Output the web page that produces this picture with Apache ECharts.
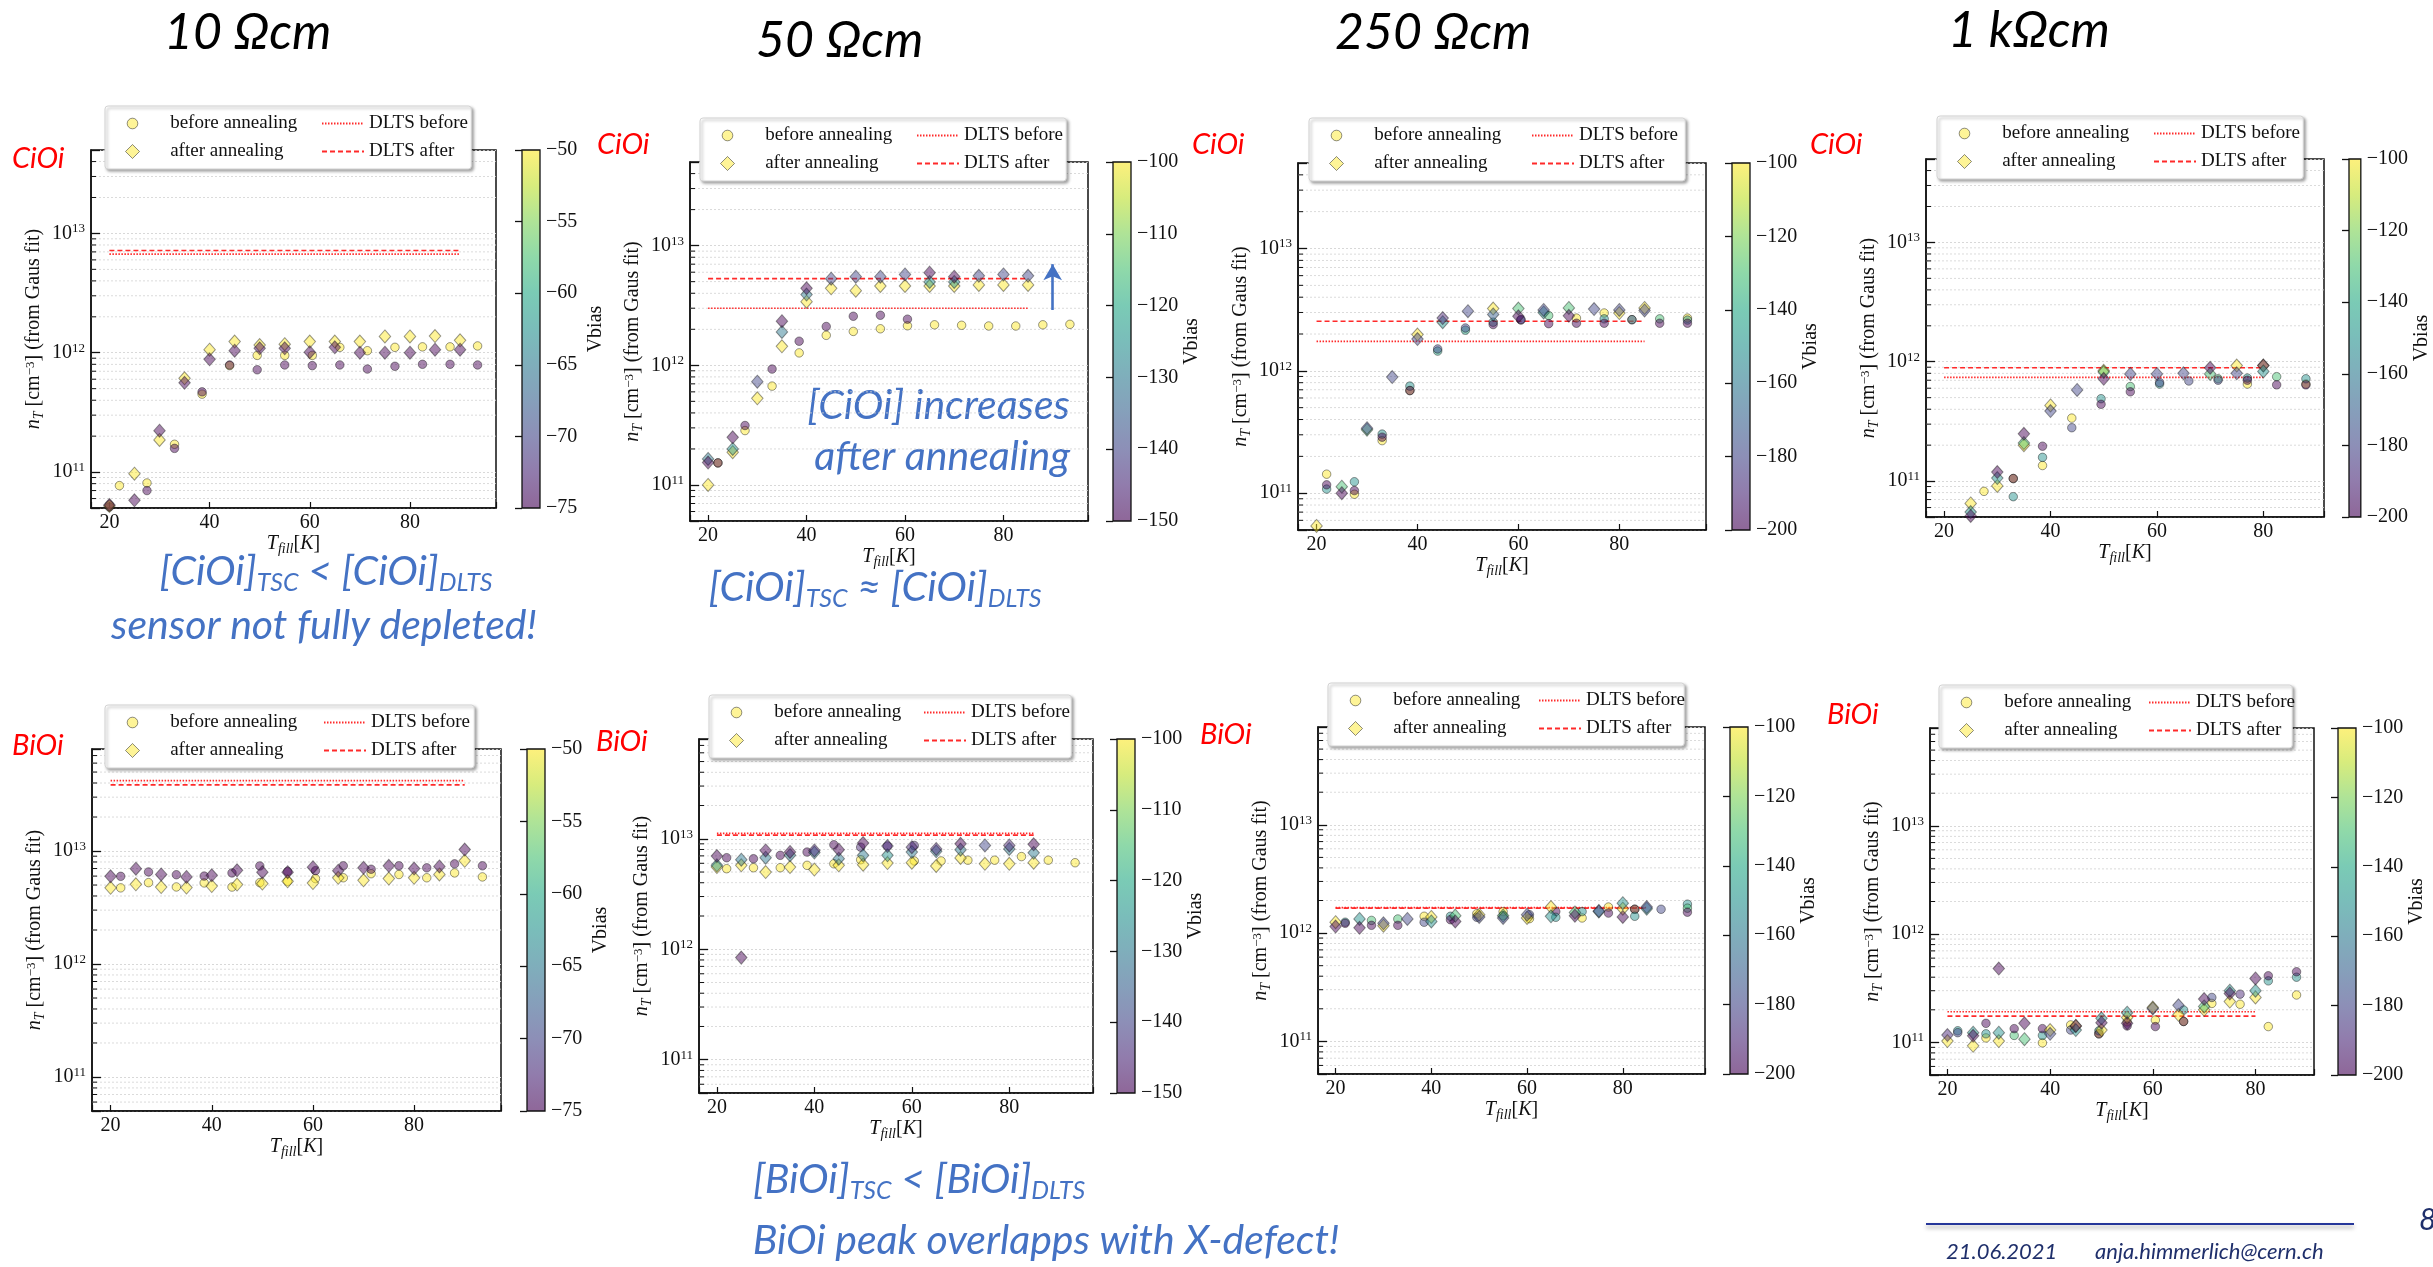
<!DOCTYPE html>
<html><head><meta charset="utf-8">
<script src="https://cdn.jsdelivr.net/npm/echarts@6/dist/echarts.min.js"></script>
<style>html,body{margin:0;padding:0;background:#fff;}#c{width:2433px;height:1267px;}</style>
</head><body><div id="c"></div>
<script>
// ---------------- DATA ----------------
// [T_fill (K), n_T (cm^-3), Vbias (V)]
const bef1=[[20,5.3e10,-50],[20,5.1e10,-75],[22,7.7e10,-50],[27.5,8.1e10,-50],[27.5,7.0e10,-75],[33,1.71e11,-50],[33,1.58e11,-75],[38.5,4.5e11,-50],[38.5,4.7e11,-75],[44,7.8e11,-50],[44,7.9e11,-75],[49.5,9.5e11,-50],[49.5,7.2e11,-75],[55,9.5e11,-50],[55,7.9e11,-75],[60.5,9.5e11,-50],[60.5,7.8e11,-75],[66,1.11e12,-50],[66,7.9e11,-75],[71.5,1.04e12,-50],[71.5,7.3e11,-75],[77,1.11e12,-50],[77,7.7e11,-75],[82.5,1.12e12,-50],[82.5,8.0e11,-75],[88,1.12e12,-50],[88,8.0e11,-75],[93.5,1.14e12,-50],[93.5,7.9e11,-75]];
const aft1=[[20,5.2e10,-50],[20,5.3e10,-75],[25,9.7e10,-50],[25,5.8e10,-75],[30,1.86e11,-50],[30,2.22e11,-75],[35,6.1e11,-50],[35,5.6e11,-75],[40,1.06e12,-50],[40,8.8e11,-75],[45,1.24e12,-50],[45,1.04e12,-75],[50,1.16e12,-50],[50,1.09e12,-75],[55,1.18e12,-50],[55,1.09e12,-75],[60,1.24e12,-50],[60,1.01e12,-75],[65,1.24e12,-50],[65,1.11e12,-75],[70,1.24e12,-50],[70,1.0e12,-75],[75,1.37e12,-50],[75,1.0e12,-75],[80,1.37e12,-50],[80,1.0e12,-75],[85,1.38e12,-50],[85,1.06e12,-75],[90,1.27e12,-50],[90,1.06e12,-75]];
const bef2=[[22,1.53e11,-100],[22,1.53e11,-150],[27.5,2.85e11,-100],[27.5,3.14e11,-150],[33,6.7e11,-100],[33,9.3e11,-150],[38.5,1.27e12,-100],[38.5,1.59e12,-150],[44,1.78e12,-100],[44,2.11e12,-150],[49.5,1.92e12,-100],[49.5,2.57e12,-150],[55,2.02e12,-100],[55,2.62e12,-150],[60.5,2.14e12,-100],[60.5,2.43e12,-150],[66,2.18e12,-100],[71.5,2.16e12,-100],[77,2.13e12,-100],[82.5,2.13e12,-100],[88,2.18e12,-100],[93.5,2.2e12,-100]];
const aft2=[[20,1.0e11,-100],[20,1.65e11,-130],[20,1.54e11,-150],[25,1.88e11,-100],[25,2.0e11,-125],[25,2.5e11,-150],[30,5.3e11,-100],[30,7.3e11,-140],[35,1.44e12,-100],[35,1.9e12,-130],[35,2.34e12,-150],[40,3.4e12,-100],[40,3.9e12,-130],[40,4.4e12,-150],[45,4.4e12,-100],[45,5.3e12,-140],[50,4.2e12,-100],[50,5.5e12,-140],[55,4.6e12,-100],[55,5.5e12,-140],[60,4.6e12,-100],[60,5.75e12,-140],[65,4.6e12,-100],[65,4.97e12,-125],[65,5.95e12,-150],[70,4.6e12,-100],[70,4.97e12,-125],[70,5.5e12,-150],[75,4.7e12,-100],[75,5.6e12,-140],[80,4.7e12,-100],[80,5.75e12,-140],[85,4.7e12,-100],[85,5.6e12,-140]];
const bef3=[[22,1.43e11,-100],[22,1.08e11,-150],[22,1.17e11,-200],[27.5,9.8e10,-100],[27.5,1.24e11,-150],[27.5,1.05e11,-200],[33,2.69e11,-100],[33,3.04e11,-150],[33,2.87e11,-200],[38.5,6.9e11,-100],[38.5,7.5e11,-150],[38.5,6.9e11,-200],[44,1.45e12,-140],[44,1.51e12,-180],[49.5,2.15e12,-140],[49.5,2.24e12,-180],[55,2.5e12,-150],[55,2.39e12,-200],[60.5,2.6e12,-200],[60.5,2.63e12,-180],[66,2.83e12,-130],[66,2.43e12,-200],[71.5,2.7e12,-100],[71.5,2.45e12,-200],[77,2.97e12,-100],[77,2.66e12,-150],[77,2.45e12,-200],[82.5,2.62e12,-120],[82.5,2.62e12,-180],[88,2.66e12,-130],[88,2.45e12,-200],[93.5,2.7e12,-100],[93.5,2.6e12,-150],[93.5,2.45e12,-200]];
const aft3=[[20,5.4e10,-100],[25,1.13e11,-130],[25,1.0e11,-200],[30,3.3e11,-130],[30,3.4e11,-180],[35,8.9e11,-180],[40,1.98e12,-100],[40,1.82e12,-180],[45,2.5e12,-150],[45,2.7e12,-190],[50,3.07e12,-180],[55,3.23e12,-100],[55,2.89e12,-170],[60,3.23e12,-130],[60,2.79e12,-200],[65,3.0e12,-150],[65,3.15e12,-180],[70,3.27e12,-130],[70,2.82e12,-200],[75,3.2e12,-180],[80,2.97e12,-100],[80,3.15e12,-180],[85,3.27e12,-100],[85,3.12e12,-180]];
const bef4=[[27.5,8.2e10,-100],[33,1.05e11,-100],[33,1.05e11,-200],[33,7.4e10,-150],[38.5,1.35e11,-100],[38.5,1.58e11,-150],[38.5,1.96e11,-200],[44,3.37e11,-100],[44,2.8e11,-180],[49.5,4.9e11,-150],[49.5,4.4e11,-200],[55,6.2e11,-130],[55,5.6e11,-200],[60.5,6.5e11,-150],[60.5,6.7e11,-180],[66,6.9e11,-180],[71.5,7.2e11,-130],[71.5,7.0e11,-180],[77,6.5e11,-100],[77,7.3e11,-150],[77,7.0e11,-200],[82.5,7.5e11,-130],[82.5,6.4e11,-200],[88,6.5e11,-100],[88,7.2e11,-150],[88,6.4e11,-200]];
const aft4=[[25,6.5e10,-100],[25,5.5e10,-150],[25,5.1e10,-200],[30,9.1e10,-100],[30,1.06e11,-150],[30,1.19e11,-200],[35,2.0e11,-100],[35,2.08e11,-130],[35,2.49e11,-200],[40,4.3e11,-100],[40,3.86e11,-180],[45,5.8e11,-180],[50,8.4e11,-100],[50,8.2e11,-130],[50,7.2e11,-200],[55,7.9e11,-180],[60,7.9e11,-180],[65,8.0e11,-180],[70,7.9e11,-130],[70,8.9e11,-200],[75,9.3e11,-100],[75,8.0e11,-180],[80,9.3e11,-100],[80,9.3e11,-200],[80,8.3e11,-150]];
const bef5=[[22,4.72e12,-50],[22,5.97e12,-75],[27.5,5.25e12,-50],[27.5,6.53e12,-75],[33,4.81e12,-50],[33,6.17e12,-75],[38.5,5.22e12,-50],[38.5,6.0e12,-75],[44,4.8e12,-50],[44,6.4e12,-75],[49.5,5.25e12,-50],[49.5,7.38e12,-75],[55,5.4e12,-50],[55,6.6e12,-75],[60.5,5.7e12,-50],[60.5,6.7e12,-75],[66,5.8e12,-50],[66,7.4e12,-75],[71.5,6.3e12,-50],[71.5,6.9e12,-75],[77,6.2e12,-50],[77,7.4e12,-75],[82.5,5.8e12,-50],[82.5,7.1e12,-75],[88,6.4e12,-50],[88,7.7e12,-75],[93.5,5.9e12,-50],[93.5,7.4e12,-75]];
const aft5=[[20,4.72e12,-50],[20,5.97e12,-75],[25,5.08e12,-50],[25,6.98e12,-75],[30,4.8e12,-50],[30,6.2e12,-75],[35,4.75e12,-50],[35,5.9e12,-75],[40,4.9e12,-50],[40,6.1e12,-75],[45,5.05e12,-50],[45,6.75e12,-75],[50,5.15e12,-50],[50,6.5e12,-75],[55,5.4e12,-50],[55,6.5e12,-75],[60,5.2e12,-50],[60,7.2e12,-75],[65,5.8e12,-50],[65,6.7e12,-75],[70,5.5e12,-50],[70,7.1e12,-75],[75,5.7e12,-50],[75,7.4e12,-75],[80,5.8e12,-50],[80,7.0e12,-75],[85,6.2e12,-50],[85,7.3e12,-75],[90,8.2e12,-50],[90,1.03e13,-75]];
const bef6=[[22,5.36e12,-100],[22,6.74e12,-150],[27.5,5.47e12,-100],[27.5,6.6e12,-150],[33,5.47e12,-100],[33,7.08e12,-150],[38.5,5.75e12,-100],[38.5,7.58e12,-150],[44,5.94e12,-100],[44,8.83e12,-150],[49.5,6.46e12,-100],[49.5,8.4e12,-145],[55,8.6e12,-145],[60.5,6.3e12,-100],[60.5,8.7e12,-145],[66,6.3e12,-100],[71.5,6.4e12,-100],[77,6.4e12,-100],[82.5,6.9e12,-100],[88,6.4e12,-100],[93.5,6.07e12,-100]];
const aft6=[[20,5.55e12,-100],[20,5.75e12,-125],[20,6.98e12,-150],[25,5.75e12,-100],[25,6.46e12,-130],[25,8.4e11,-150],[30,5.0e12,-100],[30,6.74e12,-130],[30,7.85e12,-150],[35,5.55e12,-100],[35,7.1e12,-130],[35,7.6e12,-150],[40,5.26e12,-100],[40,7.5e12,-130],[40,7.85e12,-145],[45,5.75e12,-100],[45,6.6e12,-130],[45,7.96e12,-150],[50,5.83e12,-100],[50,7.08e12,-130],[50,9.14e12,-150],[55,6.03e12,-100],[55,7.08e12,-125],[55,8.6e12,-145],[60,6.07e12,-100],[60,7.58e12,-130],[60,8.4e12,-145],[65,5.67e12,-100],[65,7.7e12,-130],[65,8.1e12,-145],[70,6.7e12,-100],[70,7.96e12,-130],[70,9.0e12,-150],[75,5.94e12,-100],[75,8.7e12,-140],[80,5.94e12,-100],[80,8.1e12,-130],[80,8.7e12,-145],[85,6.07e12,-100],[85,7.47e12,-130],[85,8.9e12,-150]];
const bef7=[[22,1.26e12,-150],[22,1.23e12,-200],[27.5,1.31e12,-130],[27.5,1.18e12,-200],[33,1.35e12,-130],[33,1.18e12,-200],[38.5,1.43e12,-100],[38.5,1.26e12,-180],[44,1.43e12,-150],[44,1.33e12,-200],[49.5,1.51e12,-100],[49.5,1.4e12,-180],[55,1.58e12,-100],[55,1.45e12,-130],[60.5,1.36e12,-100],[60.5,1.48e12,-180],[66,1.58e12,-200],[66,1.4e12,-150],[71.5,1.38e12,-100],[71.5,1.58e12,-150],[77,1.74e12,-100],[77,1.53e12,-200],[82.5,1.66e12,-100],[82.5,1.66e12,-200],[82.5,1.43e12,-150],[88,1.66e12,-180],[93.5,1.85e12,-150],[93.5,1.7e12,-130],[93.5,1.56e12,-200]];
const aft7=[[20,1.26e12,-100],[20,1.15e12,-200],[25,1.35e12,-150],[25,1.12e12,-200],[30,1.17e12,-100],[30,1.23e12,-180],[35,1.35e12,-180],[40,1.41e12,-100],[40,1.28e12,-150],[45,1.45e12,-130],[45,1.28e12,-200],[50,1.48e12,-100],[50,1.41e12,-180],[55,1.45e12,-130],[55,1.38e12,-180],[60,1.38e12,-100],[60,1.48e12,-180],[65,1.74e12,-100],[65,1.43e12,-150],[70,1.55e12,-130],[70,1.45e12,-200],[75,1.58e12,-150],[75,1.6e12,-180],[80,1.68e12,-100],[80,1.89e12,-150],[80,1.41e12,-200],[85,1.68e12,-150],[85,1.74e12,-180]];
const bef8=[[22,1.28e11,-150],[22,1.23e11,-180],[27.5,1.1e11,-100],[27.5,1.2e11,-150],[27.5,1.5e11,-200],[33,1.16e11,-130],[33,1.34e11,-200],[38.5,9.9e10,-100],[38.5,1.16e11,-150],[38.5,1.34e11,-200],[44,1.45e11,-100],[44,1.3e11,-180],[49.5,1.2e11,-100],[49.5,1.28e11,-150],[49.5,1.2e11,-200],[55,1.55e11,-100],[55,1.42e11,-200],[60.5,1.61e11,-100],[60.5,1.4e11,-200],[66,1.56e11,-100],[66,1.99e11,-150],[66,1.56e11,-200],[71.5,2.29e11,-100],[71.5,2.6e11,-180],[77,2.25e11,-100],[77,2.79e11,-190],[82.5,1.4e11,-100],[82.5,3.7e11,-150],[82.5,4.12e11,-200],[88,2.74e11,-100],[88,4.0e11,-150],[88,4.49e11,-200]];
const aft8=[[20,1.03e11,-100],[20,1.17e11,-190],[25,9.3e10,-100],[25,1.23e11,-150],[25,1.15e11,-200],[30,1.03e11,-100],[30,1.23e11,-150],[30,4.8e11,-200],[35,1.07e11,-130],[35,1.5e11,-200],[40,1.3e11,-100],[40,1.2e11,-180],[45,1.42e11,-100],[45,1.3e11,-150],[45,1.42e11,-200],[50,1.3e11,-100],[50,1.67e11,-150],[50,1.52e11,-200],[55,1.7e11,-100],[55,1.88e11,-150],[55,1.5e11,-200],[60,2.1e11,-100],[60,2.06e11,-180],[65,1.8e11,-100],[65,2.2e11,-180],[70,2.0e11,-100],[70,2.15e11,-130],[70,2.51e11,-200],[75,2.38e11,-100],[75,3.0e11,-150],[75,2.83e11,-200],[80,2.6e11,-100],[80,3.0e11,-150],[80,3.9e11,-200]];

const dltsBefore=[6.7e12,3.0e12,1.74e12,7.4e11,4.2e13,1.12e13,1.72e12,1.92e11];
const dltsAfter =[7.2e12,5.3e12,2.54e12,8.9e11,3.85e13,1.08e13,1.70e12,1.75e11];
const dltsStart=20;
const dltsEnd=[90,85,85,80,90,85,85,80];

const xMin=[16.325,16.325,16.325,16.6,16.325,16.325,16.325,16.6];
const xMax=[97.175,97.175,97.175,91.4,97.175,97.175,97.175,91.4];
const yMin=[5e10,5e10,5e10,5e10,5e10,5e10,5e10,5e10];
const yMax=[5e13,5e13,5e13,5e13,8e13,8e13,8e13,8e13];
const vMin=[-75,-150,-200,-200,-75,-150,-200,-200];
const vMax=[-50,-100,-100,-100,-50,-100,-100,-100];
const vStep=[5,10,20,20,5,10,20,20];
const defectLabels=['CiOi','CiOi','CiOi','CiOi','BiOi','BiOi','BiOi','BiOi'];
const columnTitles=['10 Ωcm','50 Ωcm','250 Ωcm','1 kΩcm'];
const arrowCiOi={x:90,from:2.9e12,to:7.0e12};

const befData=[bef1,bef2,bef3,bef4,bef5,bef6,bef7,bef8];
const aftData=[aft1,aft2,aft3,aft4,aft5,aft6,aft7,aft8];

// ---------------- LAYOUT / STYLE ----------------
const LAYOUT=[
 {g:[91,150,405,358],cb:[522,18],lg:[105,106,379],lab:[12,159]},
 {g:[690,162,398,359],cb:[1113,18],lg:[700,118,379],lab:[597,145]},
 {g:[1298,163,408,367],cb:[1732,18],lg:[1309,118,389],lab:[1192,145]},
 {g:[1926,159,398,358],cb:[2349,19],lg:[1937,116,379],lab:[1810,145]},
 {g:[92,749,409,362],cb:[527,18],lg:[105,705,382],lab:[12,746]},
 {g:[699,739,394,354],cb:[1117,18],lg:[709,695,375],lab:[596,742]},
 {g:[1318,727,387,347],cb:[1730,18],lg:[1328,683,369],lab:[1200,735]},
 {g:[1930,728,384,347],cb:[2338,18],lg:[1939,685,366],lab:[1827,715]}
];
const SERIF='"Liberation Serif","DejaVu Serif",serif';
const SANS='Lato,"Open Sans",sans-serif';
const BLUE='#4472C4';
const VIR=['#440154','#482475','#414487','#355f8d','#2a788e','#21918c','#22a884','#44bf70','#7ad151','#bddf26','#fde725'];
const rgba=(h,a)=>{const n=parseInt(h.slice(1),16);return 'rgba('+(n>>16&255)+','+(n>>8&255)+','+(n&255)+','+a+')';};
const CMAP=VIR.map(h=>rgba(h,0.6));
const RICH_AX={
 i:{fontFamily:SERIF,fontStyle:'italic',fontSize:20,color:'#111',lineHeight:22,padding:[0,0,4,0],verticalAlign:'top'},
 r:{fontFamily:SERIF,fontSize:20,color:'#111',lineHeight:22,padding:[0,0,4,0],verticalAlign:'top'},
 sub:{fontFamily:SERIF,fontStyle:'italic',fontSize:14,color:'#111',lineHeight:14,verticalAlign:'bottom'},
 sup:{fontFamily:SERIF,fontSize:13,color:'#111',lineHeight:14,verticalAlign:'top'}
};
const ICON_CIRCLE='path://M0,0M16,16M8,2.7A5.3,5.3,0,1,1,8,13.3A5.3,5.3,0,1,1,8,2.7Z';
const ICON_DIAMOND='path://M0,0M16,16M8,1L15,8L8,15L1,8Z';
const MARK_STYLE={color:'rgba(253,231,37,0.6)',borderColor:'rgba(20,20,20,0.6)',borderWidth:1};
function minorTicks(lo,hi){const out=[];for(let e=10;e<=13;e++)for(let m=2;m<=9;m++){const v=m*Math.pow(10,e);if(v>lo*1.001&&v<hi*0.999)out.push(v);}return out;}

const option={animation:false,backgroundColor:'#fff',grid:[],xAxis:[],yAxis:[],series:[],visualMap:[],legend:[],graphic:[]};

for(let i=0;i<8;i++){
 const L=LAYOUT[i];
 const gi=option.grid.length;
 option.grid.push({left:L.g[0],top:L.g[1],width:L.g[2],height:L.g[3],show:true,borderColor:'#111',borderWidth:1.5,backgroundColor:'rgba(0,0,0,0)'});
 option.xAxis.push({gridIndex:gi,type:'value',min:xMin[i],max:xMax[i],splitNumber:4,
  axisLine:{show:true,onZero:false,lineStyle:{color:'#111',width:1.5}},
  axisTick:{show:true,inside:true,length:6,lineStyle:{color:'#111',width:1.2}},
  axisLabel:{margin:5,color:'#111',fontFamily:SERIF,fontSize:20,formatter:v=>(Math.abs(v/20-Math.round(v/20))<1e-6?String(Math.round(v)):'')},
  splitLine:{show:false},
  name:'{i|T}{sub|fill}{r|[}{i|K}{r|]}',nameLocation:'middle',nameGap:22,nameTextStyle:{rich:RICH_AX}});
 option.yAxis.push({gridIndex:gi,type:'log',logBase:10,min:yMin[i],max:yMax[i],
  axisLine:{show:true,lineStyle:{color:'#111',width:1.5}},
  axisTick:{show:true,inside:true,length:9,lineStyle:{color:'#111',width:1.3}},
  axisLabel:{margin:6,formatter:v=>{const e=Math.log10(v);return Math.abs(e-Math.round(e))<1e-6?'{b|10}{s|'+Math.round(e)+'}':'';},
   rich:{b:{fontFamily:SERIF,fontSize:20,color:'#111',lineHeight:22},s:{fontFamily:SERIF,fontSize:13,color:'#111',verticalAlign:'top'}}},
  splitLine:{show:true,lineStyle:{color:'#cfcfcf',width:0.8,type:[2,2]}},
  name:'{i|n}{sub|T}{r| [cm}{sup|−3}{r|] (from Gaus fit)}',nameLocation:'middle',nameGap:39,nameRotate:90,nameTextStyle:{rich:RICH_AX}});
 // colorbar
 const ci=option.grid.length;
 option.grid.push({left:L.cb[0],top:L.g[1],width:L.cb[1],height:L.g[3],show:true,borderColor:'#111',borderWidth:1.3,
  backgroundColor:{type:'linear',x:0,y:1,x2:0,y2:0,colorStops:CMAP.map((c,k)=>({offset:k/(CMAP.length-1),color:c}))}});
 option.xAxis.push({gridIndex:ci,type:'value',show:false,min:0,max:1});
 option.yAxis.push({gridIndex:ci,type:'value',position:'right',min:vMin[i],max:vMax[i],interval:vStep[i],
  axisLine:{show:false},axisTick:{show:true,inside:true,length:7,lineStyle:{color:'#111',width:1.3}},
  axisLabel:{margin:6,color:'#111',fontFamily:SERIF,fontSize:20,formatter:v=>(v<0?'\u2212'+(-v):String(v))},
  splitLine:{show:false},
  name:'Vbias',nameLocation:'middle',nameRotate:90,nameGap:46,nameTextStyle:{fontFamily:SERIF,fontSize:20,color:'#111'}});

 const si=option.series.length;
 option.series.push({type:'scatter',name:'before annealing',xAxisIndex:gi,yAxisIndex:gi,data:befData[i],symbol:'circle',symbolSize:8.5,
  itemStyle:{color:'rgba(253,231,37,0.6)',borderColor:'rgba(20,20,20,0.55)',borderWidth:1},z:3});
 option.series.push({type:'scatter',name:'after annealing',xAxisIndex:gi,yAxisIndex:gi,data:aftData[i],symbol:'diamond',symbolSize:[11.5,13],
  itemStyle:{color:'rgba(253,231,37,0.6)',borderColor:'rgba(20,20,20,0.55)',borderWidth:1},z:3});
 option.series.push({type:'line',name:'DLTS before',xAxisIndex:gi,yAxisIndex:gi,data:[[dltsStart,dltsBefore[i]],[dltsEnd[i],dltsBefore[i]]],
  symbol:'none',silent:true,lineStyle:{color:'#ff2a2a',width:1.6,type:[1.5,1.5]},itemStyle:{color:'#ff2a2a'},z:2});
 const afterLine={type:'line',name:'DLTS after',xAxisIndex:gi,yAxisIndex:gi,data:[[dltsStart,dltsAfter[i]],[dltsEnd[i],dltsAfter[i]]],
  symbol:'none',silent:true,lineStyle:{color:'#ff2a2a',width:1.6,type:[5,3]},itemStyle:{color:'#ff2a2a'},z:2};
 if(i===1){
  afterLine.markLine={silent:true,symbol:['none','arrow'],symbolSize:[14,16],label:{show:false},
   lineStyle:{color:BLUE,width:2.6,type:'solid'},data:[[{coord:[arrowCiOi.x,arrowCiOi.from]},{coord:[arrowCiOi.x,arrowCiOi.to]}]]};
 }
 option.series.push(afterLine);
 option.series.push({type:'custom',xAxisIndex:gi,yAxisIndex:gi,silent:true,z:1,
  data:minorTicks(yMin[i],yMax[i]).map(v=>[30,v]),
  renderItem:(params,api)=>{const p=api.coord([api.value(0),api.value(1)]);const cs=params.coordSys;
   return {type:'group',children:[
    {type:'line',shape:{x1:cs.x,y1:p[1],x2:cs.x+cs.width,y2:p[1]},style:{stroke:'#d2d2d2',lineWidth:0.8,lineDash:[2,2]}},
    {type:'line',shape:{x1:cs.x,y1:p[1],x2:cs.x+5,y2:p[1]},style:{stroke:'#111',lineWidth:1}}]};}});
 option.visualMap.push({type:'continuous',show:false,min:vMin[i],max:vMax[i],dimension:2,seriesIndex:[si,si+1],inRange:{color:CMAP}});

 const lgW=L.lg[2], col2=Math.round(216*lgW/379);
 const lgText={fontFamily:SERIF,fontSize:19,color:'#111'};
 option.legend.push({left:L.lg[0],top:L.lg[1],orient:'vertical',itemGap:9,itemWidth:40,itemHeight:16,symbolKeepAspect:true,
  padding:[8,Math.max(8,lgW-19-186),8,19],backgroundColor:'#fff',borderColor:'#d4d4d4',borderWidth:1,borderRadius:3,
  shadowBlur:3,shadowOffsetX:2,shadowOffsetY:2,shadowColor:'rgba(0,0,0,0.35)',selectedMode:false,z:4,
  textStyle:lgText,formatter:n=>'\u2002\u2006'+n,
  data:[{name:'before annealing',icon:ICON_CIRCLE,itemStyle:MARK_STYLE},{name:'after annealing',icon:ICON_DIAMOND,itemStyle:MARK_STYLE}]});
 option.legend.push({left:L.lg[0]+col2,top:L.lg[1],orient:'vertical',itemGap:9,itemWidth:42,itemHeight:16,
  padding:[8,0,8,0],selectedMode:false,z:5,textStyle:lgText,
  data:[{name:'DLTS before',itemStyle:{opacity:0}},{name:'DLTS after',itemStyle:{opacity:0}}]});
 option.graphic.push({type:'text',x:L.lab[0],y:L.lab[1],style:{text:defectLabels[i],font:'italic 29px '+SANS,fill:'#ff0000',verticalAlign:'middle'}});
}

// column titles
const titlePos=[[164,33],[756,41],[1335,33],[1948,31]];
columnTitles.forEach((t,k)=>option.graphic.push({type:'text',x:titlePos[k][0],y:titlePos[k][1],style:{text:t,font:'italic 50px '+SANS,fill:'#000',verticalAlign:'middle'}}));

const RICH_BL={
 m:{font:'italic 41px '+SANS,fill:BLUE,lineHeight:44,padding:[0,0,8,0],verticalAlign:'top'},
 s:{font:'italic 25px '+SANS,fill:BLUE,lineHeight:27,verticalAlign:'bottom'}
};
function blueRich(a,op){return '{m|['+a+']}{s|TSC}{m| '+op+' ['+a+']}{s|DLTS}';}
option.graphic.push(
 {type:'text',x:326,y:573,style:{text:blueRich('CiOi','<'),rich:RICH_BL,fill:BLUE,align:'center',verticalAlign:'middle'}},
 {type:'text',x:324,y:626,style:{text:'sensor not fully depleted!',font:'italic 41px '+SANS,fill:BLUE,align:'center',verticalAlign:'middle'}},
 {type:'text',x:875,y:589,style:{text:blueRich('CiOi','≈'),rich:RICH_BL,fill:BLUE,align:'center',verticalAlign:'middle'}},
 {type:'text',x:1070,y:406,style:{text:'[CiOi] increases',font:'italic 41px '+SANS,fill:BLUE,align:'right',verticalAlign:'middle'}},
 {type:'text',x:1070,y:457,style:{text:'after annealing',font:'italic 41px '+SANS,fill:BLUE,align:'right',verticalAlign:'middle'}},
 {type:'text',x:919,y:1181,style:{text:blueRich('BiOi','<'),rich:RICH_BL,fill:BLUE,align:'center',verticalAlign:'middle'}},
 {type:'text',x:1046,y:1241,style:{text:'BiOi peak overlapps with X-defect!',font:'italic 41px '+SANS,fill:BLUE,align:'center',verticalAlign:'middle'}},
 {type:'line',shape:{x1:1926,y1:1224,x2:2354,y2:1224},style:{stroke:'#26379a',lineWidth:2.2,shadowBlur:4,shadowOffsetY:3,shadowColor:'rgba(0,0,0,0.35)'}},
 {type:'text',x:1946,y:1252,style:{text:'21.06.2021',font:'italic 22px '+SANS,fill:'#1f2f6b',verticalAlign:'middle'}},
 {type:'text',x:2095,y:1252,style:{text:'anja.himmerlich@cern.ch',font:'italic 22px '+SANS,fill:'#1f2f6b',verticalAlign:'middle'}},
 {type:'text',x:2419,y:1220,style:{text:'8',font:'italic 30px '+SANS,fill:'#1f2f6b',verticalAlign:'middle'}}
);

const chart=echarts.init(document.getElementById('c'),null,{renderer:'canvas'});
chart.setOption(option);
</script></body></html>
